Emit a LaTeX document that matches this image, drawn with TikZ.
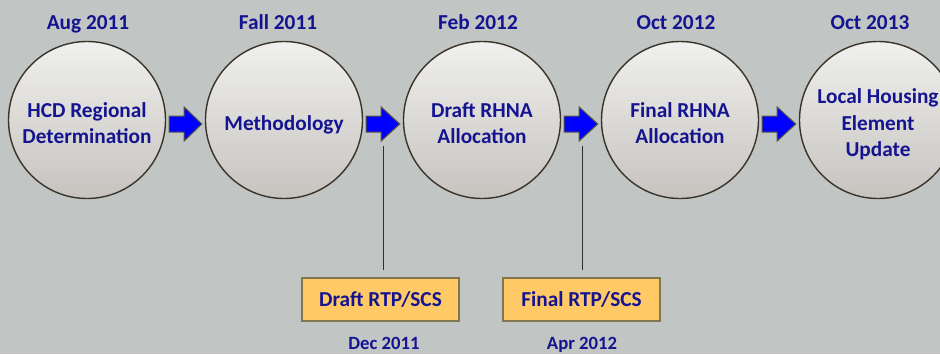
\documentclass[tikz,border=0pt]{standalone}
\usepackage{fontspec}
\setmainfont{Carlito}
\usetikzlibrary{calc}
\definecolor{bg}{RGB}{193,197,196}
\definecolor{txt}{RGB}{20,20,145}
\definecolor{ring}{RGB}{58,52,40}
\definecolor{ctop}{RGB}{240,240,238}
\definecolor{cbot}{RGB}{198,195,191}
\definecolor{arrowblue}{RGB}{0,0,255}
\definecolor{arrowedge}{RGB}{92,90,58}
\definecolor{boxfill}{RGB}{255,201,102}
\definecolor{boxedge}{RGB}{128,118,80}
\definecolor{tickline}{RGB}{50,48,40}
\tikzset{
  stage/.style={circle, minimum size=157, inner sep=0, draw=ring, line width=1.4,
    top color=ctop, bottom color=cbot, text=txt,
    font=\bfseries\fontsize{21.3}{26.5}\selectfont},
  datelbl/.style={text=txt, anchor=base, inner sep=0, font=\bfseries\fontsize{21.3}{26}\selectfont},
  smalldate/.style={text=txt, anchor=base, inner sep=0, font=\bfseries\fontsize{18.7}{22}\selectfont},
  planbox/.style={rectangle, minimum width=157, minimum height=43, inner sep=0,
    fill=boxfill, draw=boxedge, line width=1.1, text=txt,
    font=\bfseries\fontsize{21.3}{26}\selectfont},
  barrow/.style={fill=arrowblue, draw=arrowedge, line width=1, line join=miter},
  tick/.style={draw=tickline, line width=1}
}
\newcommand{\stagetext}[1]{\raisebox{0pt}[\dimexpr\height+10pt\relax][\depth]{\begin{tabular}{@{}c@{}}#1\end{tabular}}}
\newcommand{\blockarrow}[2]{%
  \draw[barrow] ($(#1.east)+(3,-4)$) -- ++(15,0) -- ++(0,-9) -- ($(#2.west)+(-3,4)$)
    -- ($(#1.east)+(18,21)$) -- ++(0,-9) -- ++(-15,0) -- cycle;}
\begin{document}
\begin{tikzpicture}[x=1pt,y=-1pt]
\useasboundingbox (0,0) rectangle (940,354);
\clip (0,0) rectangle (940,354);
\fill[bg] (0,0) rectangle (940,354);

\node[stage] (c1) at (87,120) {\stagetext{HCD Regional\\Determination}};
\node[stage] (c2) at (284,120) {\stagetext{Methodology}};
\node[stage] (c3) at (482,120) {\stagetext{Draft RHNA\\Allocation}};
\node[stage] (c4) at (680,120) {\stagetext{Final RHNA\\Allocation}};
\node[stage] (c5) at (878,120) {\stagetext{Local Housing\\Element\\Update}};

\node[datelbl] (d1) at (88,29.5) {Aug 2011};
\node[datelbl] (d2) at (278,29.5) {Fall 2011};
\node[datelbl] (d3) at (478,29.5) {Feb 2012};
\node[datelbl] (d4) at (676,29.5) {Oct 2012};
\node[datelbl] (d5) at (870,29.5) {Oct 2013};

\blockarrow{c1}{c2}
\blockarrow{c2}{c3}
\blockarrow{c3}{c4}
\blockarrow{c4}{c5}

\node[planbox] (b1) at (380.5,299.5) {Draft RTP/SCS};
\node[planbox] (b2) at (581.5,299.5) {Final RTP/SCS};

\coordinate (t1) at (383,146);
\coordinate (t2) at (582,146);
\draw[tick, shorten >=7] (t1) -- (t1 |- b1.north);
\draw[tick, shorten >=7] (t2) -- (t2 |- b2.north);

\node[smalldate] (e1) at (384,349.5) {Dec 2011};
\node[smalldate] (e2) at (582,349.5) {Apr 2012};
\end{tikzpicture}
\end{document}
